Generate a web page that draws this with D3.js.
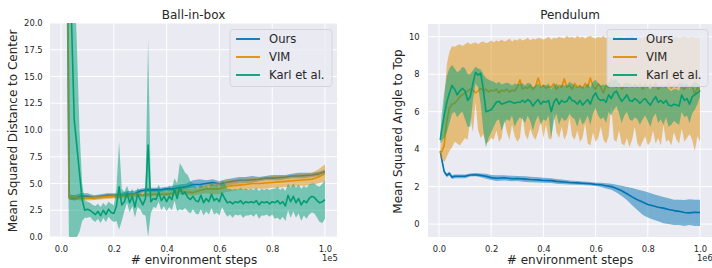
<!DOCTYPE html>
<html><head><meta charset="utf-8">
<script src="https://cdn.jsdelivr.net/npm/d3@7"></script>
<style>body{margin:0;background:#fff;} svg{display:block;font-family:"DejaVu Sans",sans-serif;}</style>
</head><body><svg id="c" width="712" height="268"></svg>
<script>
// ---------------- Ball-in-box data ----------------
const ballCoarseX = [0.025,0.03,0.05,0.075,0.10,0.125,0.15,0.175,0.20,0.225,0.25,0.275,0.30,0.325,0.35,0.375,0.40,0.425,0.45,0.475,0.50,0.525,0.55,0.575,0.60,0.625,0.65,0.675,0.70,0.725,0.75,0.775,0.80,0.825,0.85,0.875,0.90,0.925,0.95,0.975,1.0];
const ballOursMean = [30,3.7,3.6,3.8,3.8,3.7,3.8,3.9,3.9,3.9,4.0,4.0,4.3,4.4,4.4,4.4,4.5,4.5,4.6,4.7,4.9,4.9,5.0,5.1,4.95,5.1,5.2,5.3,5.3,5.35,5.4,5.5,5.5,5.55,5.6,5.7,5.7,5.75,5.8,5.9,6.1];
const ballOursHi = [30,4.0,3.9,4.1,4.1,3.9,4.0,4.1,4.1,4.1,4.3,4.3,4.5,4.6,4.6,4.6,4.7,4.8,4.9,5.0,5.3,5.4,5.3,5.4,5.2,5.4,5.5,5.6,5.6,5.7,5.6,5.7,5.8,5.8,5.8,5.9,6.0,6.0,6.0,6.1,6.3];
const ballOursLo = [30,3.5,3.4,3.6,3.6,3.5,3.6,3.7,3.7,3.7,3.8,3.8,4.1,4.2,4.2,4.2,4.3,4.3,4.4,4.5,4.6,4.6,4.7,4.8,4.7,4.8,4.9,5.0,5.0,5.1,5.2,5.3,5.3,5.3,5.4,5.5,5.5,5.5,5.6,5.7,5.9];
const ballVimMean = [30,3.7,3.7,3.6,3.6,3.65,3.7,3.75,3.8,3.8,3.85,3.9,3.95,3.95,4.0,4.0,4.0,4.1,4.3,4.2,4.15,4.35,4.5,4.5,4.5,4.7,4.8,4.85,4.9,5.0,5.0,5.05,5.1,5.15,5.2,5.25,5.3,5.35,5.4,5.6,5.9];
const ballVimHi = [30,3.9,3.9,3.8,3.8,3.85,3.9,3.95,4.0,4.0,4.05,4.1,4.15,4.15,4.2,4.2,4.25,4.4,4.6,4.5,4.5,4.7,4.9,5.0,5.1,5.3,5.4,5.4,5.5,5.5,5.6,5.6,5.7,5.7,5.8,5.8,5.9,5.9,6.0,6.3,6.8];
const ballVimLo = [30,3.5,3.5,3.4,3.4,3.45,3.5,3.55,3.6,3.6,3.65,3.7,3.75,3.75,3.8,3.8,3.8,3.85,4.0,3.9,3.9,4.0,4.1,4.0,4.0,4.2,4.3,4.4,4.4,4.5,4.5,4.5,4.6,4.6,4.7,4.7,4.8,4.8,4.9,5.0,5.2];
const ballFineX = d3.range(2, 101).map(i => i / 100);
const ballKarlMean = [30,25,20,11,8.5,6,3.5,2.5,2.6,2.5,
 2.3,2.1,2.4,2.0,2.5,2.1,2.6,2.3,2.2,2.9,
 4.7,3.0,3.3,4.1,3.2,3.8,2.8,4.0,3.5,3.0,
 3.6,8.6,3.3,3.6,3.5,4.2,3.4,3.8,3.3,3.8,
 3.5,4.5,3.6,4.7,4.0,4.2,3.7,3.5,3.8,3.4,
 3.3,3.9,3.2,3.6,3.3,4.0,3.4,3.6,3.3,4.1,
 3.6,3.2,3.3,3.1,3.3,3.2,3.4,3.1,3.3,3.2,
 3.3,3.2,3.4,3.0,3.3,3.2,3.3,3.1,3.3,3.2,
 3.4,3.1,3.3,2.9,3.9,3.3,3.8,3.2,3.6,3.0,
 3.4,3.2,3.6,3.8,3.7,3.4,3.2,3.3,3.5];
const ballKarlHi = [30,30,30,25,18,10,5,3.4,3.3,3.2,
 3.0,2.9,3.1,2.8,3.2,2.9,3.3,3.1,3.0,4.5,
 8.9,4.5,4.2,4.8,4.1,4.5,3.8,4.6,4.2,3.9,
 4.5,18.5,4.5,4.3,4.3,4.9,4.3,4.6,4.3,4.8,
 4.5,5.5,5.0,6.9,6.5,6.0,5.8,5.2,5.0,4.7,
 4.5,5.0,4.6,4.8,4.6,5.2,4.8,4.9,4.6,5.3,
 5.0,4.5,4.5,4.4,4.5,4.4,4.6,4.4,4.5,4.4,
 4.5,4.4,4.6,4.3,4.5,4.4,4.5,4.4,4.5,4.5,
 4.7,4.4,4.6,4.3,5.0,4.6,5.0,4.6,4.9,4.5,
 4.8,4.6,4.9,5.0,5.0,4.8,4.7,5.0,5.3];
const ballKarlLo = [25,0,0,0,0,0.5,1.5,1.8,1.8,1.9,
 1.6,1.4,1.7,1.3,1.8,1.4,1.9,1.6,1.4,1.5,
 0.7,1.5,2.4,3.2,2.3,2.9,1.8,2.8,2.6,2.1,
 2.0,0,2.2,2.8,2.7,3.3,2.5,2.9,2.4,2.8,
 2.5,3.4,2.4,2.6,2.5,2.7,2.4,2.2,2.6,2.2,
 2.1,2.6,2.0,2.4,2.1,2.7,2.1,2.3,2.0,2.8,
 2.3,1.9,2.1,1.8,2.1,2.0,2.1,1.8,2.0,2.0,
 2.1,1.9,2.2,1.7,2.0,2.0,2.1,1.9,2.1,1.7,
 1.8,1.6,1.9,1.5,2.5,1.8,2.4,1.8,2.2,1.5,
 2.0,1.7,2.1,2.3,2.2,1.8,1.4,1.3,1.7];

// ---------------- Pendulum data ----------------
const pendCoarseX = [0.005,0.01,0.02,0.03,0.04,0.05,0.06,0.08,0.10,0.12,0.14,0.16,0.18,0.20,0.22,0.25,0.28,0.30,0.33,0.35,0.38,0.40,0.43,0.45,0.48,0.50,0.53,0.55,0.58,0.60,0.62,0.64,0.66,0.68,0.70,0.72,0.74,0.76,0.78,0.80,0.82,0.84,0.86,0.88,0.90,0.92,0.94,0.96,0.98,1.00];
const pendOursMean = [3.9,3.5,2.8,2.6,2.7,2.5,2.55,2.55,2.55,2.62,2.63,2.6,2.55,2.48,2.45,2.47,2.42,2.43,2.4,2.38,2.36,2.33,2.32,2.28,2.25,2.22,2.2,2.18,2.15,2.12,2.1,2.05,2.0,1.9,1.78,1.62,1.45,1.3,1.18,1.05,0.98,0.9,0.85,0.78,0.72,0.68,0.62,0.6,0.63,0.62];
const pendOursHi = [3.95,3.6,2.9,2.7,2.8,2.6,2.65,2.65,2.65,2.7,2.72,2.7,2.68,2.62,2.6,2.6,2.58,2.56,2.55,2.53,2.5,2.47,2.45,2.41,2.37,2.33,2.3,2.27,2.24,2.2,2.2,2.18,2.15,2.1,2.05,1.98,1.92,1.85,1.78,1.7,1.6,1.52,1.45,1.38,1.3,1.3,1.28,1.32,1.3,1.3];
const pendOursLo = [3.85,3.4,2.7,2.5,2.6,2.4,2.45,2.45,2.45,2.54,2.55,2.5,2.42,2.35,2.3,2.33,2.28,2.3,2.25,2.23,2.22,2.2,2.19,2.15,2.13,2.11,2.1,2.09,2.06,2.03,1.98,1.9,1.83,1.68,1.5,1.28,1.0,0.75,0.5,0.35,0.25,0.15,0.05,0.0,-0.05,-0.05,-0.1,-0.05,-0.1,-0.1];
const pendFineX = [0.005].concat(d3.range(1, 101).map(i => i / 100));
const pendVimMean = [3.8,
 3.85,4.2,5.5,6.2,6.4,6.45,6.6,6.8,6.9,7.0,
 7.1,7.2,7.15,7.0,7.1,7.25,7.1,7.2,7.05,7.15,
 7.1,7.2,7.0,7.15,7.1,7.2,7.05,7.15,7.1,7.3,
 7.7,7.2,7.3,7.25,7.4,7.2,7.35,7.8,7.3,7.4,
 7.25,7.35,7.3,7.5,7.2,7.4,7.3,7.75,7.3,7.4,
 7.2,7.5,7.3,7.4,7.25,7.5,7.3,7.8,7.35,7.2,
 7.5,7.3,7.0,7.4,7.3,7.75,7.4,7.3,7.5,7.2,
 7.35,7.3,7.5,7.3,7.4,7.3,7.5,7.2,7.4,7.3,
 7.45,7.3,7.5,7.2,7.35,7.4,7.3,7.5,7.25,7.4,
 7.3,7.5,7.3,7.2,7.4,7.3,7.4,6.9,7.3,7.1];
const pendVimHi = [4.0,
 4.6,6.5,8.5,9.2,9.5,9.45,9.55,9.6,9.5,9.6,
 9.7,9.6,9.65,9.7,9.6,9.7,9.75,9.65,9.7,9.8,
 9.7,9.8,9.75,9.85,9.75,9.8,9.9,9.75,9.85,9.8,
 9.9,9.8,9.85,9.95,9.8,9.9,9.85,9.95,9.9,9.85,
 9.9,10.0,9.85,9.95,9.9,10.0,9.95,9.9,10.05,9.95,
 10.0,9.9,10.05,9.95,10.0,9.9,10.0,10.05,9.95,9.9,
 10.0,9.95,10.05,9.9,10.0,9.95,10.05,9.9,10.0,9.95,
 9.9,10.0,9.95,10.05,9.9,10.0,9.95,9.9,10.0,9.95,
 10.05,9.9,9.95,10.0,9.9,10.05,9.95,10.0,9.9,9.95,
 10.0,9.9,9.95,10.05,9.95,9.9,10.0,9.95,9.9,9.95];
const pendVimLo = [3.6,
 3.5,3.3,3.6,3.9,4.1,4.4,4.3,4.2,4.4,4.6,
 4.5,5.7,4.9,6.5,5.0,4.6,4.8,4.3,4.4,4.6,
 4.5,5.0,4.4,4.6,5.6,4.9,4.5,5.3,4.7,4.4,
 4.6,5.8,4.8,4.5,5.1,4.7,4.5,4.9,5.5,4.6,
 5.3,4.6,4.5,6.0,4.9,4.6,5.2,4.5,4.8,5.7,
 4.7,4.5,5.0,4.4,4.6,5.4,4.3,4.2,4.9,4.4,
 4.6,5.2,4.5,4.3,4.7,6.3,4.5,4.4,5.0,4.3,
 4.2,4.6,4.1,4.5,5.2,4.3,4.1,4.4,4.7,4.2,
 4.4,5.0,4.3,4.6,4.2,5.3,4.4,4.5,4.2,4.9,
 4.5,4.3,5.1,4.4,4.6,4.8,4.5,3.9,4.7,4.4];
const pendKarlMean = [4.5,
 5.0,5.8,6.5,7.0,7.4,7.2,6.9,7.1,7.25,7.1,
 6.6,6.8,7.5,8.1,7.95,8.05,7.2,6.0,6.05,6.1,
 6.3,6.5,6.55,6.4,6.45,6.5,6.55,6.5,6.45,6.5,
 6.5,6.6,6.5,6.65,6.55,6.3,6.5,6.65,6.4,6.55,
 6.5,6.6,6.0,6.5,6.7,6.4,6.6,6.5,6.55,6.8,
 6.6,6.55,6.4,6.6,6.35,6.5,6.65,6.4,6.8,7.0,
 6.7,6.6,6.65,6.5,6.9,6.7,7.0,7.1,6.8,6.55,
 6.7,6.9,6.6,6.55,6.7,6.6,6.45,6.6,6.7,6.5,
 6.35,6.6,6.8,6.5,6.6,6.45,6.6,6.35,6.3,6.4,
 6.35,6.3,6.9,6.6,6.7,6.4,6.8,6.9,7.0,7.1];
const pendKarlHi = [4.7,
 5.8,7.0,7.9,8.3,8.5,8.3,8.1,8.2,8.4,8.3,
 8.0,8.0,8.2,8.4,8.3,8.25,8.0,7.8,7.7,7.65,
 7.6,7.5,7.6,7.45,7.5,7.55,7.5,7.4,7.5,7.45,
 7.5,7.5,7.4,7.55,7.5,7.3,7.4,7.5,7.3,7.45,
 7.4,7.5,7.2,7.4,7.5,7.3,7.45,7.4,7.4,7.6,
 7.5,7.4,7.3,7.4,7.3,7.35,7.5,7.3,7.6,7.7,
 7.5,7.4,7.45,7.4,7.6,7.5,7.7,7.75,7.5,7.35,
 7.5,7.6,7.4,7.35,7.5,7.4,7.3,7.4,7.5,7.3,
 7.2,7.4,7.5,7.3,7.4,7.3,7.4,7.2,7.1,7.2,
 7.2,7.1,7.6,7.4,7.5,7.2,7.5,7.6,7.5,7.4];
const pendKarlLo = [4.3,
 4.4,4.6,4.9,5.4,5.9,6.0,5.7,5.9,6.0,5.6,
 5.2,5.2,6.6,7.5,7.3,6.4,5.0,4.1,4.6,4.9,
 5.2,5.5,5.6,5.0,5.4,5.6,5.5,5.8,5.2,5.5,
 5.7,5.6,5.4,5.8,5.5,5.0,5.5,5.8,5.3,5.6,
 5.5,5.8,4.6,5.5,5.9,5.3,5.7,5.5,5.6,5.9,
 5.7,5.6,5.2,5.7,5.3,5.5,5.8,5.3,5.9,6.2,
 5.8,5.6,5.7,5.4,6.0,5.8,6.1,6.3,5.9,5.4,
 5.8,6.0,5.6,5.5,5.7,5.6,5.3,5.6,5.8,5.5,
 5.2,5.7,5.9,5.4,5.6,5.3,5.7,5.2,5.3,5.5,
 5.4,5.3,6.0,5.7,5.8,5.4,5.9,6.1,6.4,6.8];

// ---------------- labels / ticks ----------------
const seriesNames = ["Ours", "VIM", "Karl et al."];
const seriesColors = ["#0173B2", "#DE8F05", "#029E73"];
const xTickVals = [0.0, 0.2, 0.4, 0.6, 0.8, 1.0];
const ballYTicks = [0, 2.5, 5, 7.5, 10, 12.5, 15, 17.5, 20];
const pendYTicks = [0, 2, 4, 6, 8, 10];

const svg = d3.select("#c");
const BG = "#EAEAF2", TXT = "#262626";

function panel(o) {
  const g = svg.append("g");
  const x = d3.scaleLinear().domain(o.xDomain).range([o.left, o.right]);
  const y = d3.scaleLinear().domain(o.yDomain).range([o.bottom, o.top]);
  g.append("rect").attr("x", o.left).attr("y", o.top)
    .attr("width", o.right - o.left).attr("height", o.bottom - o.top).attr("fill", BG);
  g.append("g").selectAll("line").data(o.xTicks).join("line")
    .attr("x1", d => x(d)).attr("x2", d => x(d)).attr("y1", o.top).attr("y2", o.bottom)
    .attr("stroke", "#fff").attr("stroke-width", 1);
  g.append("g").selectAll("line").data(o.yTicks).join("line")
    .attr("y1", d => y(d)).attr("y2", d => y(d)).attr("x1", o.left).attr("x2", o.right)
    .attr("stroke", "#fff").attr("stroke-width", 1);
  svg.append("clipPath").attr("id", o.id).append("rect")
    .attr("x", o.left).attr("y", o.top).attr("width", o.right - o.left).attr("height", o.bottom - o.top);
  const plot = g.append("g").attr("clip-path", `url(#${o.id})`);
  o.series.forEach((s, k) => {
    const pts = s.x.map((xv, i) => ({x: xv, m: s.mean[i], lo: s.lo[i], hi: s.hi[i]}));
    plot.append("path").datum(pts)
      .attr("d", d3.area().x(d => x(d.x)).y0(d => y(d.lo)).y1(d => y(d.hi)))
      .attr("fill", seriesColors[k]).attr("fill-opacity", 0.5).attr("stroke", "none");
    plot.append("path").datum(pts)
      .attr("d", d3.line().x(d => x(d.x)).y(d => y(d.m)))
      .attr("fill", "none").attr("stroke", seriesColors[k]).attr("stroke-width", 1.6)
      .attr("stroke-linejoin", "round");
  });
  const xa = g.append("g").attr("transform", `translate(0,${o.bottom})`)
    .call(d3.axisBottom(x).tickValues(o.xTicks).tickFormat(d3.format(".1f")).tickSize(0).tickPadding(9.3));
  const ya = g.append("g").attr("transform", `translate(${o.left},0)`)
    .call(d3.axisLeft(y).tickValues(o.yTicks).tickFormat(o.yFormat).tickSize(0).tickPadding(o.yPad));
  [xa, ya].forEach(a => {
    a.select(".domain").remove();
    a.selectAll("text").attr("font-family", "DejaVu Sans").attr("font-size", 8.4).attr("fill", TXT);
  });
  const cx = (o.left + o.right) / 2;
  g.append("text").attr("x", cx).attr("y", 19).attr("text-anchor", "middle")
    .attr("font-size", 12).attr("fill", TXT).text(o.title);
  g.append("text").attr("x", o.xLabelX).attr("y", 264).attr("text-anchor", "middle")
    .attr("font-size", 12).attr("fill", TXT).text("# environment steps");
  g.append("text").attr("transform", `translate(${o.yLabelX},${(o.top + o.bottom) / 2 + 1}) rotate(-90)`)
    .attr("text-anchor", "middle").attr("font-size", 12).attr("fill", TXT).text(o.yLabel);
  g.append("text").attr("x", o.offX).attr("y", 261).attr("text-anchor", "start")
    .attr("font-size", 8.4).attr("fill", TXT).text(o.offset);
  const lg = g.append("g");
  lg.append("rect").attr("x", o.legX).attr("y", 29.5).attr("width", o.legW).attr("height", 57)
    .attr("rx", 3).attr("fill", BG).attr("fill-opacity", 0.8).attr("stroke", "#d4d4da").attr("stroke-width", 1);
  seriesNames.forEach((nm, k) => {
    const yy = 39 + k * 18;
    lg.append("line").attr("x1", o.legX + 6).attr("x2", o.legX + 30).attr("y1", yy).attr("y2", yy)
      .attr("stroke", seriesColors[k]).attr("stroke-width", 1.8);
    lg.append("text").attr("x", o.legX + 39).attr("y", yy + 4.2).attr("font-size", 11.6)
      .attr("fill", TXT).text(nm);
  });
}

panel({
  id: "clipA", left: 50, right: 337, top: 23, bottom: 237,
  xDomain: [-0.0417, 1.0455], yDomain: [0, 20],
  xTicks: xTickVals, yTicks: ballYTicks, yFormat: d3.format(".1f"), yPad: 7.3,
  title: "Ball-in-box", yLabel: "Mean Squared Distance to Center", yLabelX: 17, xLabelX: 194,
  offset: "1e5", offX: 322, legX: 230, legW: 102,
  series: [
    {x: ballCoarseX, mean: ballOursMean, lo: ballOursLo, hi: ballOursHi},
    {x: ballCoarseX, mean: ballVimMean, lo: ballVimLo, hi: ballVimHi},
    {x: ballFineX, mean: ballKarlMean, lo: ballKarlLo, hi: ballKarlHi}
  ]
});
panel({
  id: "clipB", left: 428, right: 712, top: 24, bottom: 237,
  xDomain: [-0.042, 1.046], yDomain: [-0.69, 10.68],
  xTicks: xTickVals, yTicks: pendYTicks, yFormat: d3.format("d"), yPad: 8.4,
  title: "Pendulum", yLabel: "Mean Squared Angle to Top", yLabelX: 402, xLabelX: 570,
  offset: "1e6", offX: 697, legX: 607, legW: 101,
  series: [
    {x: pendCoarseX, mean: pendOursMean, lo: pendOursLo, hi: pendOursHi},
    {x: pendFineX, mean: pendVimMean, lo: pendVimLo, hi: pendVimHi},
    {x: pendFineX, mean: pendKarlMean, lo: pendKarlLo, hi: pendKarlHi}
  ]
});
</script>
</body></html>
